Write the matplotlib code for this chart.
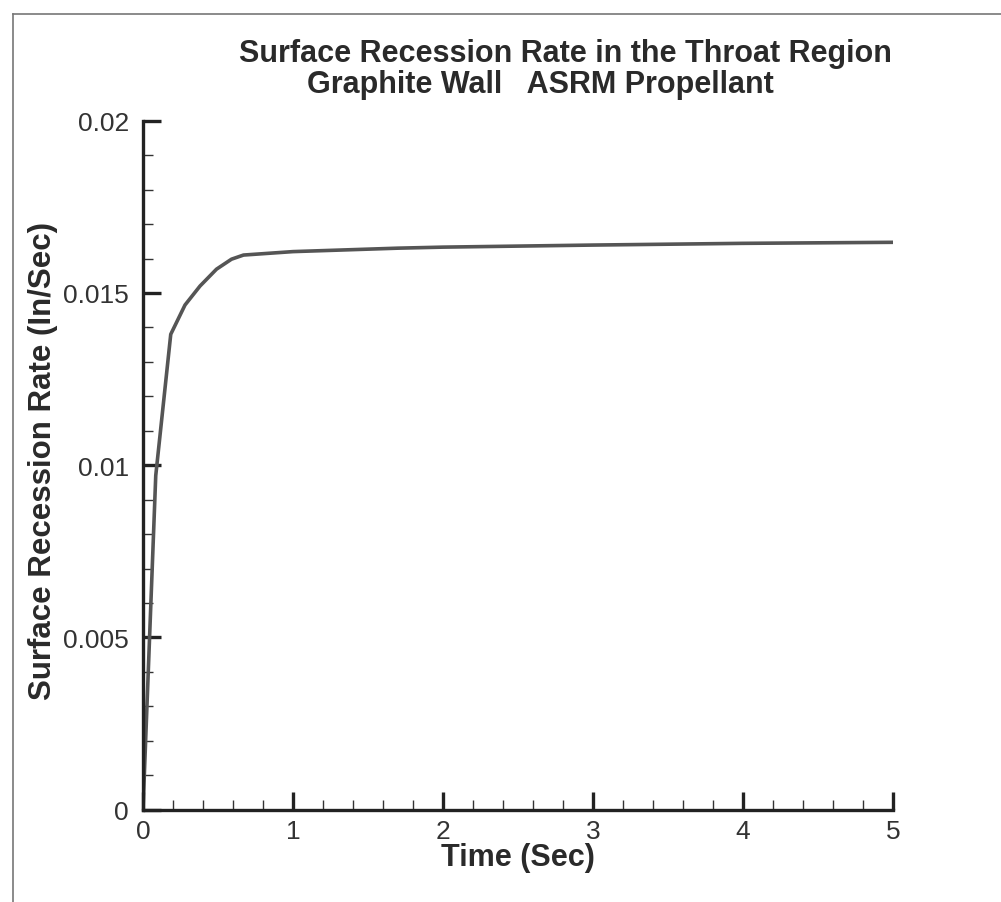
import matplotlib
matplotlib.use("Agg")
import matplotlib.pyplot as plt
from matplotlib.ticker import MultipleLocator
from matplotlib.lines import Line2D

# Data
time_sec = [0.0, 0.085, 0.185, 0.28, 0.38, 0.49, 0.59, 0.67, 1.0, 1.7, 2.0, 3.0, 4.0, 5.0]
recession_rate = [0.0, 0.0097, 0.0138, 0.01465, 0.0152, 0.01569, 0.01598, 0.0161,
                  0.0162, 0.0163, 0.01633, 0.01639, 0.01644, 0.01647]

x_ticks = [0, 1, 2, 3, 4, 5]
x_tick_labels = ["0", "1", "2", "3", "4", "5"]
y_ticks = [0, 0.005, 0.01, 0.015, 0.02]
y_tick_labels = ["0", "0.005", "0.01", "0.015", "0.02"]

title_line1 = "Surface Recession Rate in the Throat Region"
title_line2 = "Graphite Wall   ASRM Propellant"
x_label = "Time (Sec)"
y_label = "Surface Recession Rate (In/Sec)"

plt.rcParams['font.family'] = ['Liberation Sans', 'DejaVu Sans']

W, H = 1001, 903
fig = plt.figure(figsize=(W / 100, H / 100), dpi=100)
fig.patch.set_facecolor("white")

ax = fig.add_axes([143 / W, 1 - 810.7 / H, 750 / W, 689 / H])
ax.plot(time_sec, recession_rate, color="#555555", lw=2.6, solid_joinstyle="round")

ax.set_xlim(0, 5)
ax.set_ylim(0, 0.02)
ax.set_xticks(x_ticks)
ax.set_xticklabels(x_tick_labels)
ax.set_yticks(y_ticks)
ax.set_yticklabels(y_tick_labels)
ax.xaxis.set_minor_locator(MultipleLocator(0.2))
ax.yaxis.set_minor_locator(MultipleLocator(0.001))

for s in ["top", "right"]:
    ax.spines[s].set_visible(False)
for s in ["left", "bottom"]:
    ax.spines[s].set_linewidth(2.4)
    ax.spines[s].set_color("#222222")

ax.tick_params(which="major", direction="in", length=13, width=2.4, color="#222222",
               labelsize=19, labelcolor="#333333", pad=10)
ax.tick_params(which="minor", direction="in", length=7, width=1.0, color="#333333")
ax.tick_params(axis="x", which="major", pad=7)

ax.set_xlabel(x_label, fontsize=22, fontweight="bold", color="#2a2a2a", labelpad=-1)
ax.set_ylabel(y_label, fontsize=22.5, fontweight="bold", color="#2a2a2a")
ax.yaxis.set_label_coords(-(143 - 58) / 750, 0.5 + (810.7 - 461 - 344.5) / 689)

fig.text(565 / W, 1 - 62 / H, title_line1, ha="center", va="baseline",
         fontsize=22, fontweight="bold", color="#2a2a2a")
fig.text(540 / W, 1 - 93 / H, title_line2, ha="center", va="baseline",
         fontsize=22, fontweight="bold", color="#2a2a2a")

# Page frame lines
fig.add_artist(Line2D([13 / W, 13 / W], [0, 1 - 15 / H], transform=fig.transFigure,
                      color="#777777", lw=1.2))
fig.add_artist(Line2D([13 / W, 1], [1 - 15 / H, 1 - 15 / H], transform=fig.transFigure,
                      color="#777777", lw=1.2))

fig.savefig("out.png", dpi=100, facecolor="white")
